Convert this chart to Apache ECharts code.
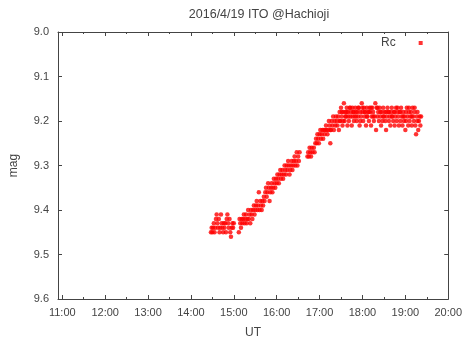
<!DOCTYPE html>
<html>
<head>
<meta charset="utf-8">
<script src="https://cdn.jsdelivr.net/npm/echarts/dist/echarts.min.js"></script>
<style>
html,body{margin:0;padding:0;background:#fff;}
#main{width:465px;height:345px;}
</style>
</head>
<body>
<div id="main"></div>
<script>
// time in minutes after 0:00 UT, magnitude Rc
var hourTicks=[660,720,780,840,900,960,1020,1080,1140,1200];
var hourLabels=['11:00','12:00','13:00','14:00','15:00','16:00','17:00','18:00','19:00','20:00'];
var halfTicks=[690,750,810,870,930,990,1050,1110,1170];

var segA=[[868,9.45],[869,9.44],[870,9.45],[871,9.44],[872,9.43],[873,9.45],[874,9.44],[875,9.42],[876,9.41],[877,9.43],
 [878,9.44],[879,9.42],[880,9.45],[881,9.44],[882,9.41],[883,9.43],[884,9.44],[885,9.45],[886,9.43],[887,9.44],
 [888,9.43],[889,9.45],[890,9.42],[891,9.41],[892,9.43],[893,9.44],[894,9.42],[895,9.45],[896,9.46],[897,9.44],
 [898,9.43],[899,9.44],[900,9.43]];
var segB=[[907,9.45],[908,9.42],[909,9.43],[910,9.44],[911,9.42],[912,9.43],[913,9.42],[914,9.41],
 [915,9.43],[916,9.42],[917,9.41],[918,9.43],[919,9.42],[920,9.40],[921,9.42],[922,9.41],[923,9.43],[924,9.40],
 [925,9.41],[926,9.42],[927,9.40],[928,9.39],[929,9.41],[930,9.40],[931,9.39],[932,9.38],[933,9.40],[934,9.39],
 [935,9.36],[936,9.40],[937,9.38],[938,9.39],[939,9.40],[940,9.38],[941,9.39]];
var segC=[[942,9.37],[943,9.38],[944,9.36],[945,9.35],[946,9.37],[947,9.36],[948,9.34],[949,9.35],[950,9.38],[951,9.36],
 [952,9.35],[953,9.34],[954,9.36],[955,9.35],[956,9.33],[957,9.34],[958,9.35],[959,9.33],[960,9.34],[961,9.32],
 [962,9.33],[963,9.34],[964,9.32],[965,9.31],[966,9.33],[967,9.32],[968,9.31],[969,9.33],[970,9.32],[971,9.30],
 [972,9.31],[973,9.32],[974,9.30],[975,9.31],[976,9.29],[977,9.30],[978,9.32],[979,9.31],[980,9.30],[981,9.29],
 [982,9.31],[983,9.30],[984,9.29],[985,9.28],[986,9.30],[987,9.29],[988,9.27],[989,9.30],[990,9.28],[991,9.29],[992,9.27]];
var segD=[[1003,9.28],[1004,9.27],[1005,9.28],[1006,9.26],[1007,9.27],[1008,9.28],[1009,9.26],[1010,9.27],[1012,9.26],
 [1013,9.27],[1014,9.25],[1015,9.24],[1016,9.25],[1017,9.23],[1018,9.24],[1019,9.25],[1020,9.23],[1021,9.22],[1022,9.24],
 [1023,9.23],[1024,9.22],[1025,9.24],[1026,9.22],[1027,9.23],[1028,9.22],[1029,9.21],[1030,9.22],[1031,9.23],[1032,9.22],
 [1033,9.20],[1034,9.21],[1035,9.25],[1035,9.22],[1036,9.22],[1037,9.20],[1038,9.21],[1039,9.19],[1040,9.22],[1041,9.20],
 [1042,9.21],[1043,9.19],[1044,9.20]];
var segE=[[1045,9.21],[1046,9.19],[1047,9.22],[1048,9.18],[1049,9.20],[1050,9.17],[1051,9.19],[1052,9.21],[1053,9.18],[1054,9.16],
 [1055,9.20],[1056,9.18],[1057,9.19],[1058,9.17],[1059,9.21],[1060,9.18],[1061,9.20],[1062,9.17],[1063,9.19],[1064,9.18],
 [1065,9.21],[1066,9.17],[1067,9.18],[1068,9.20],[1069,9.19],[1070,9.17],[1071,9.18],[1072,9.20],[1073,9.18],[1074,9.19],
 [1075,9.17],[1076,9.21],[1077,9.18],[1078,9.19],[1079,9.16],[1080,9.18],[1081,9.20],[1082,9.17],[1083,9.19],[1084,9.18],
 [1085,9.21],[1086,9.17],[1087,9.19],[1088,9.18],[1089,9.20],[1090,9.17],[1091,9.18],[1092,9.21],[1093,9.19],[1094,9.17],
 [1095,9.18],[1096,9.20],[1097,9.19],[1098,9.16],[1099,9.22],[1100,9.17],[1101,9.19],[1102,9.18],[1103,9.20],[1104,9.17],
 [1105,9.19],[1106,9.21],[1107,9.18],[1108,9.20],[1109,9.17],[1110,9.19],[1111,9.18],[1112,9.20],[1113,9.22],[1114,9.19],
 [1115,9.17],[1116,9.18],[1117,9.20],[1118,9.19],[1119,9.21],[1120,9.18],[1121,9.17],[1122,9.19],[1123,9.20],[1124,9.18],
 [1125,9.21],[1126,9.19],[1127,9.17],[1128,9.20],[1129,9.18],[1130,9.19],[1131,9.21],[1132,9.18],[1133,9.20],[1134,9.17],
 [1135,9.19],[1136,9.21],[1137,9.18],[1138,9.20],[1139,9.19],[1140,9.22],[1141,9.18],[1142,9.17],[1143,9.19],[1144,9.21],
 [1145,9.18],[1146,9.20],[1147,9.19],[1148,9.18],[1149,9.21],[1150,9.17],[1151,9.19],[1152,9.20],[1153,9.18],[1154,9.21],
 [1155,9.23],[1156,9.19],[1157,9.18],[1158,9.22],[1159,9.20],[1160,9.19],[1161,9.21],[1162,9.19]];
var segE2=[[1048,9.20],[1051,9.18],[1053,9.20],[1056,9.19],[1058,9.18],[1060,9.19],[1063,9.17],[1066,9.19],[1068,9.18],
 [1071,9.19],[1074,9.17],[1077,9.20],[1080,9.17],[1083,9.18],[1086,9.19],[1089,9.18],[1092,9.17],[1095,9.19],[1101,9.17],
 [1105,9.18],[1109,9.19],[1113,9.18],[1117,9.18],[1121,9.19],[1125,9.18],[1129,9.17],[1133,9.18],[1137,9.19],[1141,9.20],
 [1145,9.17],[1149,9.19],[1153,9.17],[1157,9.20]];

var TXT='#444';
var FONT='"Liberation Sans", Arial, sans-serif';
function hourLabel(v){
    var i=hourTicks.indexOf(v);
    return i<0?'':hourLabels[i];
}
var lineSt={color:'#444',width:1};

var chart=echarts.init(document.getElementById('main'));
var option={
    animation:false,
    textStyle:{fontFamily:FONT},
    title:{
        text:'2016/4/19 ITO @Hachioji',
        left:254,top:3,textAlign:'center',
        textStyle:{fontSize:12.5,fontWeight:'normal',color:TXT,fontFamily:FONT}
    },
    legend:{
        data:[{name:'Rc',icon:'rect'}],
        left:376,top:32,align:'right',
        itemWidth:4,itemHeight:4,
        textStyle:{fontSize:12,color:TXT,padding:[0,18,0,0],fontFamily:FONT}
    },
    grid:{left:58,right:13,top:32,bottom:46},
    xAxis:[
        {type:'value',min:654,max:1200,position:'bottom',
         name:'UT',nameLocation:'middle',nameGap:28,
         nameTextStyle:{fontSize:12,color:TXT},
         axisLine:{show:true,lineStyle:lineSt},
         axisTick:{show:true,inside:true,length:4,customValues:hourTicks,lineStyle:lineSt},
         axisLabel:{customValues:hourTicks,formatter:hourLabel,margin:8,fontSize:11,color:TXT},
         splitLine:{show:false}},
        {type:'value',min:654,max:1200,position:'bottom',
         axisLine:{show:false},
         axisTick:{show:true,inside:true,length:2,customValues:halfTicks,lineStyle:lineSt},
         axisLabel:{show:false},splitLine:{show:false}},
        {type:'value',min:654,max:1200,position:'top',
         axisLine:{show:true,lineStyle:lineSt},
         axisTick:{show:true,inside:true,length:4,customValues:hourTicks,lineStyle:lineSt},
         axisLabel:{show:false},splitLine:{show:false}},
        {type:'value',min:654,max:1200,position:'top',
         axisLine:{show:false},
         axisTick:{show:true,inside:true,length:2,customValues:halfTicks,lineStyle:lineSt},
         axisLabel:{show:false},splitLine:{show:false}}
    ],
    yAxis:[
        {type:'value',inverse:true,min:9.0,max:9.6,interval:0.1,position:'left',
         name:'mag',nameLocation:'middle',nameGap:38,nameRotate:90,
         nameTextStyle:{fontSize:12,color:TXT},
         axisLine:{show:true,lineStyle:lineSt},
         axisTick:{show:true,inside:true,length:4,lineStyle:lineSt},
         axisLabel:{formatter:function(v){return v.toFixed(1);},margin:9,fontSize:11,color:TXT},
         splitLine:{show:false}},
        {type:'value',inverse:true,min:9.0,max:9.6,interval:0.1,position:'right',
         axisLine:{show:true,lineStyle:lineSt},
         axisTick:{show:true,inside:true,length:4,lineStyle:lineSt},
         axisLabel:{show:false},splitLine:{show:false}}
    ],
    series:[{
        name:'Rc',type:'scatter',xAxisIndex:0,yAxisIndex:0,
        symbol:'circle',symbolSize:4.5,
        itemStyle:{color:'#ff0000'},
        data:segA.concat(segB,segC,segD,segE,segE2)
    }]
};
chart.setOption(option);
</script>
</body>
</html>
